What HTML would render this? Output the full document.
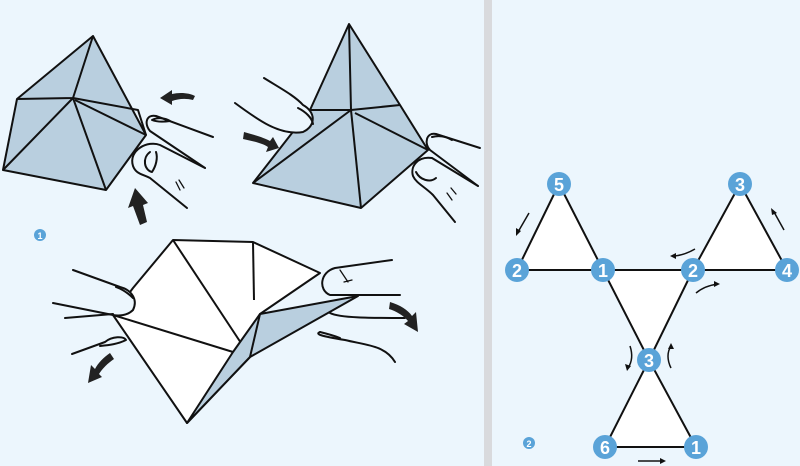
<!DOCTYPE html>
<html><head><style>
html,body{margin:0;padding:0;background:#ecf6fd;}
svg{display:block}
text{font-family:"Liberation Sans",sans-serif;font-weight:bold;fill:#fff;text-anchor:middle}
</style></head><body>
<svg width="800" height="466" viewBox="0 0 800 466" xmlns="http://www.w3.org/2000/svg">
<rect width="800" height="466" fill="#ecf6fd"/>
<rect x="484" y="0" width="8" height="466" fill="#d9dadd"/>
<g stroke="#111" stroke-width="2" stroke-linejoin="round" fill="#b9cfdf">
<!-- top-left pyramid -->
<polygon points="93,36 17,99 3,170 106,190 146,135"/>
<polyline fill="none" points="17,99 73,98 93,36"/>
<polyline fill="none" points="73,98 3,170"/>
<polyline fill="none" points="73,98 106,190"/>
<polyline fill="none" points="73,98 138,110 146,135"/>
<polyline fill="none" points="75,100 146,135"/>
<!-- top-right pyramid -->
<polygon points="349,24 310,110 253,183 361,208 428,150 400,105"/>
<polyline fill="none" points="349,24 351,110 253,183"/>
<polyline fill="none" points="351,110 361,208"/>
<polyline fill="none" points="351,110 400,105"/>
<polyline fill="none" points="351,110 310,110"/>
<polyline fill="none" points="355,113 428,150"/>
<!-- bottom model -->
<polygon fill="#fff" points="173,240 253,242 320,273 260,314 250,357 187,423 113,315 133,288"/>
<polyline fill="none" points="173,240 241,343"/>
<polyline fill="none" points="253,242 254,300"/>
<polyline fill="none" points="113,315 233,352"/>
<polygon points="260,314 358,296 250,357 187,423 233,352"/>
<polyline fill="none" points="260,314 250,357"/>
</g>
<!-- fingers -->
<g stroke="#111" stroke-width="2" fill="#ecf6fd" stroke-linecap="round" stroke-linejoin="round">
<!-- top-left -->
<path d="M213,137 L156,116 C146,114 144,124 150,131 L205,168"/>
<path d="M152,120 C158,117 165,118 170,121 C163,122 157,122 152,120 Z" fill="none"/>
<path d="M205,168 L160,145 C148,140 128,150 133,166 C136,174 142,174 150,178 L187,208" />
<path d="M150,152 C142,158 144,170 152,172 C156,166 158,158 156,152" fill="none"/>
<path d="M176,182 L180,190 M179,180 L184,188" fill="none" stroke-width="1.3"/>
<!-- top-right left finger -->
<path d="M264,78 C280,88 295,96 303,105 C316,112 316,126 303,132 C280,136 258,120 235,103"/>
<path d="M298,108 C306,112 312,118 313,124" fill="none"/>
<!-- top-right right fingers -->
<path d="M480,148 L436,134 C426,132 424,144 430,150 L478,186"/>
<path d="M432,137 C440,135 447,137 452,140" fill="none"/>
<path d="M478,186 L432,158 C418,156 410,166 413,176 C416,183 425,187 433,195 L455,222"/>
<path d="M416,172 C420,180 430,183 436,178" fill="none"/>
<path d="M447,193 L452,200 M451,188 L456,194" fill="none" stroke-width="1.3"/>
<!-- bottom left fingers -->
<path d="M73,270 L120,287 C132,290 138,300 133,310 C127,316 118,316 113,315 L53,303"/>
<path d="M116,287 C124,290 130,295 133,298" fill="none"/>
<path d="M65,318 L113,314" fill="none"/>
<path d="M72,354 L105,342 C112,336 124,336 126,340 C118,344 110,345 100,346" />
<!-- bottom right fingers -->
<path d="M392,260 L335,268 C320,272 318,290 330,295 L400,295"/>
<path d="M340,270 L348,282 M344,282 L352,280" fill="none" stroke-width="1.3"/>
<path d="M330,313 C340,318 370,318 405,318" fill="none"/>
<path d="M395,362 C385,345 365,345 345,340 C320,336 315,334 320,332" fill="none"/>
<path d="M320,332 C328,334 335,336 340,338" fill="none"/>
</g>
<!-- black arrows -->
<g fill="#222">
<path d="M160,98 L172,90 L172,94 C180,92 190,93 195,96 L193,100 C185,98 178,99 172,101 L172,105 Z"/>
<path d="M140,225 L133,206 L128,208 L135,188 L148,203 L143,205 L147,222 Z"/>
<path d="M244,132 C255,135 265,138 270,141 L273,137 L279,148 L266,152 L268,147 C262,143 252,141 243,139 Z"/>
<path d="M110,353 C104,357 98,363 95,369 L91,365 L88,383 L102,377 L99,374 C102,369 108,363 114,359 Z"/>
<path d="M390,302 C400,305 408,310 412,316 L416,312 L418,332 L404,324 L408,321 C404,316 396,311 389,309 Z"/>
</g>
<circle cx="40" cy="235" r="6" fill="#5aa3d8"/>
<text x="40" y="239" font-size="9">1</text>
<!-- right diagram -->
<g stroke="#111" stroke-width="2" fill="#fff">
<polygon points="559,184 517,270 603,270"/>
<polygon points="740,184 693,270 787,270"/>
<polygon points="603,270 693,270 649,360"/>
<polygon points="649,360 605,447 696,447"/>
</g>
<g fill="#5aa3d8">
<circle cx="559" cy="184" r="12"/><circle cx="517" cy="270" r="12"/><circle cx="603" cy="270" r="12"/>
<circle cx="693" cy="270" r="12"/><circle cx="740" cy="184" r="12"/><circle cx="787" cy="270" r="12"/>
<circle cx="649" cy="360" r="12"/><circle cx="605" cy="447" r="12"/><circle cx="696" cy="447" r="12"/>
<circle cx="529" cy="443" r="6"/>
</g>
<g font-size="18">
<text x="559" y="191">5</text><text x="517" y="277">2</text><text x="603" y="277">1</text>
<text x="693" y="277">2</text><text x="740" y="191">3</text><text x="787" y="277">4</text>
<text x="649" y="367">3</text><text x="605" y="454">6</text><text x="696" y="454">1</text>
</g>
<text x="529" y="447" font-size="9">2</text>
<g stroke="#111" stroke-width="1.5" fill="none">
<path d="M529,213 L518,232"/><path d="M784,230 L774,212"/>
<path d="M695,249 C688,253 680,256 672,256"/><path d="M696,293 C702,288 710,285 718,284"/>
<path d="M630,346 C633,355 632,362 628,368"/><path d="M671,368 C667,360 667,352 671,346"/>
<path d="M638,461 L662,461"/>
</g>
<g fill="#111">
<path d="M516,236 L516,228 L521,231 Z"/><path d="M771,208 L777,213 L772,215 Z"/>
<path d="M670,256 L676,253 L676,259 Z"/><path d="M720,284 L714,281 L714,287 Z"/>
<path d="M627,371 L625,364 L631,366 Z"/><path d="M671,343 L668,349 L674,349 Z"/>
<path d="M666,461 L660,458 L660,464 Z"/>
</g>
</svg>
</body></html>
